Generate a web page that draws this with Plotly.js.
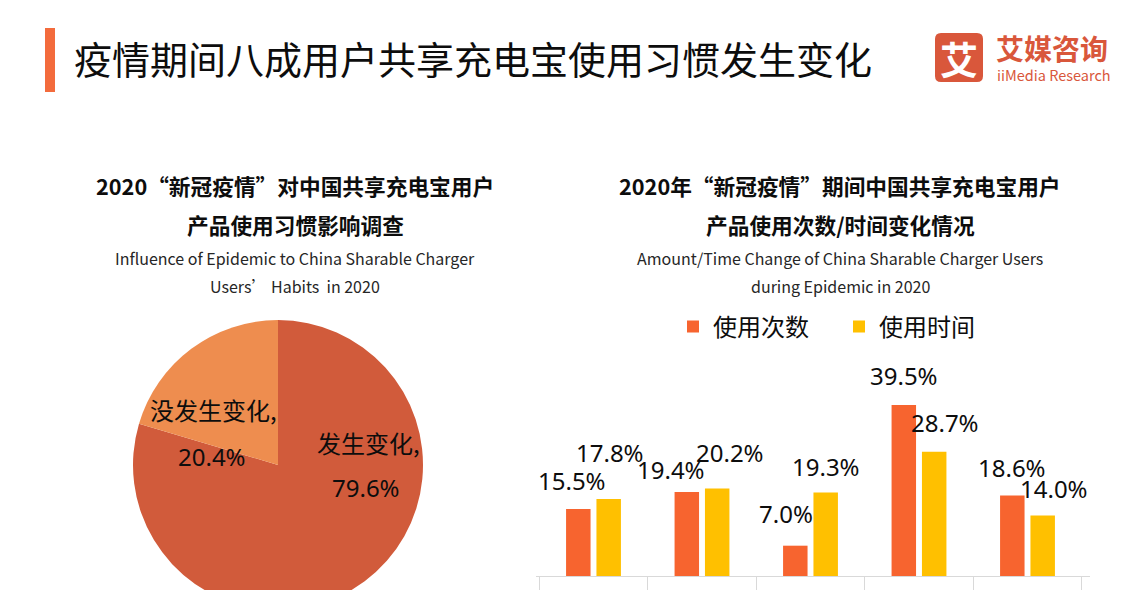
<!DOCTYPE html>
<html>
<head>
<meta charset="utf-8">
<script src="https://cdn.plot.ly/plotly-3.0.1.min.js"></script>
<style>
  html, body { margin: 0; padding: 0; background: #fff; overflow: hidden; }
  #chart { width: 1134px; height: 700px; }
</style>
</head>
<body>
<div id="chart"></div>
<script>
// ---------- data ----------
const mainTitle = "疫情期间八成用户共享充电宝使用习惯发生变化";

const pieTitle1 = "2020“新冠疫情”对中国共享充电宝用户";
const pieTitle2 = "产品使用习惯影响调查";
const pieSub1 = "Influence of Epidemic to China Sharable Charger";
const pieSub2 = "Users’ Habits  in 2020";
const pieLabels = ["发生变化", "没发生变化"];
const pieValues = [79.6, 20.4];

const barTitle1 = "2020年“新冠疫情”期间中国共享充电宝用户";
const barTitle2 = "产品使用次数/时间变化情况";
const barSub1 = "Amount/Time Change of China Sharable Charger Users";
const barSub2 = "during Epidemic in 2020";
const barCategories = ["大幅增加", "小幅增加", "没有变化", "小幅减少", "大幅减少"];
const seriesNames = ["使用次数", "使用时间"];
const countValues = [15.5, 19.4, 7.0, 39.5, 18.6];
const timeValues = [17.8, 20.2, 19.3, 28.7, 14.0];

// ---------- layout helpers ----------
const W = 1134, H = 700;
const px = x => x / W;
const py = y => (H - y) / H;

const CJK = "Noto Sans CJK SC";
const NUM = "Noto Sans, Noto Sans CJK SC";
const TEXT = "#0d0d0d";

const pieColors = ["#D15B3B", "#EE8D4F"];
const barColors = ["#F7642F", "#FFC000"];

// manual label offsets (px) relative to each bar's top-centre (dx, up)
const countLabelOffsets = [[-6, 28], [-16, 23], [-9, 32], [0, 29], [0, 28]];
const timeLabelOffsets = [[1, 46], [12, 36], [0, 26], [10, 29], [11, 27]];
const barHalfOffset = 15.5;

// ---------- traces ----------
const pieTrace = {
  type: "pie",
  labels: pieLabels,
  values: pieValues,
  sort: false,
  direction: "clockwise",
  rotation: 0,
  marker: { colors: pieColors, line: { width: 0 } },
  textinfo: "none",
  hoverinfo: "label+percent",
  showlegend: false,
  domain: { x: [px(133), px(423)], y: [py(610), py(320)] }
};

const countTrace = {
  type: "bar", name: seriesNames[0], x: barCategories, y: countValues,
  marker: { color: barColors[0] }, xaxis: "x", yaxis: "y", hoverinfo: "y+name"
};
const timeTrace = {
  type: "bar", name: seriesNames[1], x: barCategories, y: timeValues,
  marker: { color: barColors[1] }, xaxis: "x", yaxis: "y", hoverinfo: "y+name"
};

// ---------- annotations ----------
const ann = [];
function txt(text, x, y, size, opts) {
  ann.push(Object.assign({
    text: text, xref: "paper", yref: "paper", x: px(x), y: py(y),
    xanchor: "center", yanchor: "middle", showarrow: false,
    font: { family: CJK, size: size, color: TEXT }
  }, opts || {}));
}

// main title
txt(mainTitle, 72, 58, 38, { xanchor: "left" });
// logo texts
txt("艾", 959, 58, 38, { font: { family: CJK, size: 38, color: "#ffffff", weight: 700 } });
txt("艾媒咨询", 994, 48, 28, { xanchor: "left", font: { family: CJK, size: 28, color: "#D9573B", weight: 700 } });
txt("iiMedia Research", 995, 75, 14.5, { xanchor: "left", font: { family: CJK, size: 14.5, color: "#D9573B" } });

// subtitles
[[pieTitle1, pieTitle2, pieSub1, pieSub2, 295], [barTitle1, barTitle2, barSub1, barSub2, 840]].forEach(t => {
  txt(t[0], t[4], 186, 21.7, { font: { family: CJK, size: 21.7, color: TEXT, weight: 700 } });
  txt(t[1], t[4], 225, 21.7, { font: { family: CJK, size: 21.7, color: TEXT, weight: 700 } });
  txt(t[2], t[4], 258, 16, { font: { family: CJK, size: 16, color: "#262626" } });
  txt(t[3], t[4], 286, 16, { font: { family: CJK, size: 16, color: "#262626" } });
});

// pie labels
const pieLabelPos = [[368, 442, 366, 488], [213, 409, 212, 456]];
pieLabels.forEach((l, i) => {
  const p = pieLabelPos[i];
  txt(l + ",", p[0], p[1], 24, { font: { family: CJK, size: 24, color: TEXT } });
  txt(pieValues[i].toFixed(1) + "%", p[2], p[3], 24, { font: { family: NUM, size: 24, color: TEXT } });
});

// bar labels (anchored to data through the axes)
function barLabels(values, offsets, side) {
  values.forEach((v, i) => {
    ann.push({
      text: v.toFixed(1) + "%", xref: "x", yref: "y", x: barCategories[i], y: v,
      xshift: side * barHalfOffset + offsets[i][0], yshift: offsets[i][1],
      xanchor: "center", yanchor: "middle", showarrow: false,
      font: { family: NUM, size: 24, color: TEXT }
    });
  });
}
barLabels(countValues, countLabelOffsets, -1);
barLabels(timeValues, timeLabelOffsets, 1);

// ---------- shapes ----------
function roundRect(x0, y0, x1, y1, r) {
  const X = v => px(v), Y = v => py(v);
  return `M ${X(x0 + r)} ${Y(y0)} L ${X(x1 - r)} ${Y(y0)} Q ${X(x1)} ${Y(y0)} ${X(x1)} ${Y(y0 + r)} ` +
    `L ${X(x1)} ${Y(y1 - r)} Q ${X(x1)} ${Y(y1)} ${X(x1 - r)} ${Y(y1)} L ${X(x0 + r)} ${Y(y1)} ` +
    `Q ${X(x0)} ${Y(y1)} ${X(x0)} ${Y(y1 - r)} L ${X(x0)} ${Y(y0 + r)} Q ${X(x0)} ${Y(y0)} ${X(x0 + r)} ${Y(y0)} Z`;
}
const shapes = [
  { type: "rect", xref: "paper", yref: "paper", x0: px(45), x1: px(55), y0: py(92), y1: py(28),
    fillcolor: "#F36B3C", line: { width: 0 } },
  { type: "path", xref: "paper", yref: "paper", path: roundRect(935, 33, 983, 82, 6),
    fillcolor: "#D9573B", line: { width: 0 } }
];

// ---------- layout ----------
const yTop = 45; // axis maximum (%)
const layout = {
  width: W, height: H,
  margin: { l: 0, r: 0, t: 0, b: 0, pad: 0, autoexpand: false },
  paper_bgcolor: "#ffffff", plot_bgcolor: "#ffffff",
  font: { family: CJK, color: TEXT },
  showlegend: true,
  legend: {
    orientation: "h", x: px(673), xanchor: "left", y: py(327), yanchor: "middle",
    font: { family: CJK, size: 24, color: TEXT }, bgcolor: "rgba(0,0,0,0)",
    entrywidth: 121, entrywidthmode: "pixels", traceorder: "normal"
  },
  barmode: "group", bargap: 0.44, bargroupgap: 0.194,
  xaxis: {
    domain: [px(536), px(1090)], type: "category", anchor: "y",
    showline: true, linecolor: "#D9D9D9", linewidth: 1,
    ticks: "outside", tickson: "boundaries", ticklen: 22, tickcolor: "#D9D9D9", tickwidth: 1,
    showticklabels: false, automargin: false,
    showgrid: false, zeroline: false, fixedrange: true
  },
  yaxis: {
    domain: [py(576), py(576 - yTop * 4.33)], range: [0, yTop], anchor: "x",
    visible: false, showgrid: false, zeroline: false, fixedrange: true, automargin: false
  },
  annotations: ann,
  shapes: shapes
};

Plotly.newPlot("chart", [pieTrace, countTrace, timeTrace], layout, { displayModeBar: false, staticPlot: true });
</script>
</body>
</html>
